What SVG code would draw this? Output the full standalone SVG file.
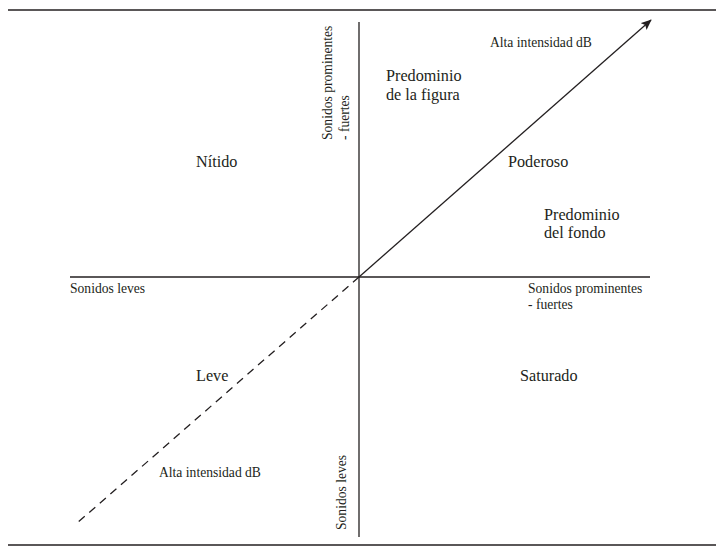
<svg xmlns="http://www.w3.org/2000/svg" width="725" height="555" viewBox="0 0 725 555">
<style>
text{font-family:"Liberation Serif","DejaVu Serif",serif;fill:#231f20}
.s{font-size:13.6px}
.m{font-size:16.2px}
.ln{stroke:#231f20;stroke-width:1.3;fill:none}
</style>
<defs>
<marker id="ah" viewBox="0 0 12 10" refX="11" refY="5" markerWidth="11" markerHeight="9" markerUnits="userSpaceOnUse" orient="auto">
<path d="M0,0 L12,5 L0,10 L2.5,5 z" fill="#231f20"/>
</marker>
</defs>
<rect width="725" height="555" fill="#fff"/>
<g id="connectors">
<line class="ln" x1="8" y1="10" x2="716" y2="10"/>
<line class="ln" x1="8" y1="545" x2="716" y2="545"/>
<line class="ln" x1="359" y1="22" x2="359" y2="537"/>
<line class="ln" x1="70" y1="277" x2="650" y2="277"/>
<line class="ln" x1="359" y1="277" x2="651" y2="20" marker-end="url(#ah)"/>
<line class="ln" x1="359" y1="277" x2="76" y2="524" stroke-dasharray="8,6"/>
</g>
<g id="labels-top">
<text class="s" x="490" y="47">Alta intensidad dB</text>
<text class="m" x="386" y="81">Predominio</text>
<text class="m" x="386" y="100">de la figura</text>
<text class="s" transform="translate(332,140) rotate(-90)">Sonidos prominentes</text>
<text class="s" transform="translate(349,140) rotate(-90)">- fuertes</text>
<text class="m" x="196" y="167">Nítido</text>
<text class="m" x="508" y="167">Poderoso</text>
<text class="m" x="544" y="220">Predominio</text>
<text class="m" x="544" y="238">del fondo</text>
</g>
<g id="labels-axis">
<text class="s" x="70" y="293">Sonidos leves</text>
<text class="s" x="528" y="293">Sonidos prominentes</text>
<text class="s" x="528" y="309">- fuertes</text>
</g>
<g id="labels-bottom">
<text class="m" x="196" y="381">Leve</text>
<text class="m" x="520" y="381">Saturado</text>
<text class="s" x="159" y="477">Alta intensidad dB</text>
<text class="s" transform="translate(346,530) rotate(-90)">Sonidos leves</text>
</g>
</svg>
